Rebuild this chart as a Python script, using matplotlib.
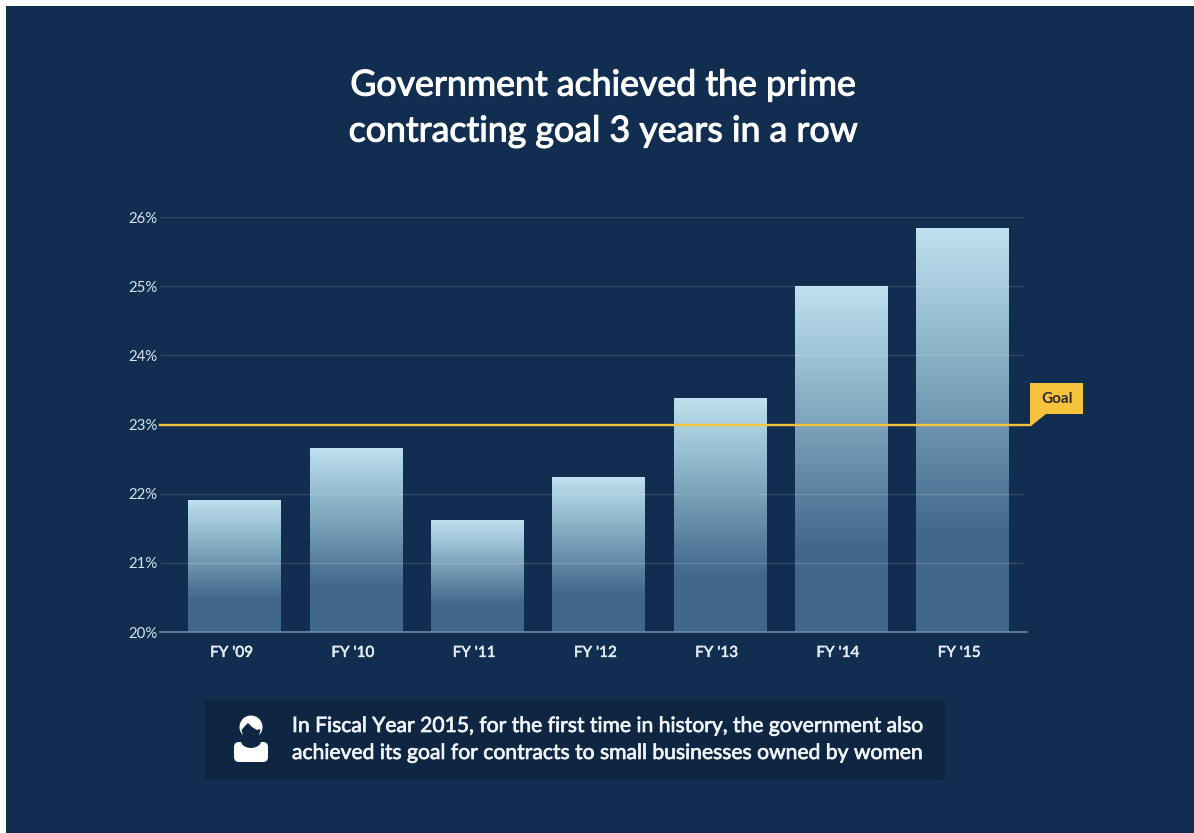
import numpy as np
import matplotlib
matplotlib.use('Agg')
import matplotlib.pyplot as plt
import matplotlib.patheffects as pe
from matplotlib.colors import LinearSegmentedColormap
from matplotlib.patches import Circle, Polygon, Rectangle, FancyBboxPatch, Ellipse
from matplotlib.transforms import ScaledTranslation

years = ["FY '09", "FY '10", "FY '11", "FY '12", "FY '13", "FY '14", "FY '15"]
shares = [21.91, 22.66, 21.62, 22.24, 23.38, 25.0, 25.84]
y_ticks = [20, 21, 22, 23, 24, 25, 26]
goal = 23

W, H = 1194, 833
BG = '#112d50'
BOX = '#0f2643'
plt.rcParams['font.family'] = ['Lato', 'DejaVu Sans']


def semibold(color, width=0.5):
    # Lato has no medium weight here, so thicken the regular one a little
    return [pe.withStroke(linewidth=width, foreground=color)]


fig = plt.figure(figsize=(W / 100, H / 100), dpi=100, facecolor='white')

# overlay in pixel coords (y down) for the background, flag, note box
page = fig.add_axes([0, 0, 1, 1], zorder=0)
page.set_xlim(0, W)
page.set_ylim(H, 0)
page.axis('off')
page.add_patch(Rectangle((6, 6), W - 6, H - 6, fc=BG, ec='none'))

# main chart
ax = fig.add_axes([160 / W, 1 - 632 / H, (1027 - 160) / W, (632 - 217) / H], zorder=1)
ax.patch.set_alpha(0)
x = np.arange(len(years))
bar_w = 0.76
cmap = LinearSegmentedColormap.from_list('bar', [(0, '#bfe0ef'), (0.25, '#94bccf'), (0.75, '#43688b'), (1, '#41678a')])
grad = np.linspace(0, 1, 256).reshape(-1, 1)
bars = ax.bar(x, np.array(shares) - 20, bottom=20, width=bar_w, color='none', zorder=2)
for b in bars:
    im = ax.imshow(grad, cmap=cmap, aspect='auto', zorder=2,
                   extent=[b.get_x(), b.get_x() + b.get_width(), 20, 20 + b.get_height()])
    im.set_clip_path(b)

ax.set_xlim(-0.615, 6.535)
ax.set_ylim(20, 26)
for s in ['top', 'left', 'right']:
    ax.spines[s].set_visible(False)
ax.spines['bottom'].set_color('#6d88a3')
ax.spines['bottom'].set_linewidth(1.2)
ax.set_yticks(y_ticks)
ax.set_yticklabels([f'{t}%' for t in y_ticks], color='#d8e4ee', fontsize=10.8)
ax.set_xticks(x)
ax.set_xticklabels(years, color='#e4ecf3', fontsize=11)
ax.tick_params(length=0)
ax.tick_params(axis='y', pad=2)
ax.tick_params(axis='x', pad=10)
shift = ScaledTranslation(-3 / 100, 0, fig.dpi_scale_trans)
for lab in ax.get_xticklabels():
    lab.set_transform(lab.get_transform() + shift)
    lab.set_path_effects(semibold('#e4ecf3', 0.4))
ax.hlines(y_ticks[1:], -0.615, 6.5, color='white', alpha=0.14, linewidth=1, zorder=3)
ax.plot([0, 1.0035], [0.5, 0.5], transform=ax.transAxes, color='#f7c23c', linewidth=1.7, zorder=4, clip_on=False)

# title
for txt, yy in [('Government achieved the prime', 85), ('contracting goal 3 years in a row', 131)]:
    page.text(603, yy, txt, color='white', fontsize=25.7, ha='center', va='center',
              path_effects=semibold('white', 0.8))

# goal flag
flag = fig.add_axes([0, 0, 1, 1], zorder=2)
flag.set_xlim(0, W)
flag.set_ylim(H, 0)
flag.axis('off')
flag.add_patch(Polygon([(1030, 383), (1083, 383), (1083, 414), (1046, 414), (1031, 426), (1030, 426)],
                       fc='#f7c23c', ec='none'))
flag.text(1057, 399, 'Goal', color='#2a2a33', fontsize=11, fontweight='bold', ha='center', va='center')

# note box
page.add_patch(FancyBboxPatch((205, 699), 740, 81, boxstyle='round,pad=0,rounding_size=2',
                              fc=BOX, ec='none'))
for txt, yy in [('In Fiscal Year 2015, for the first time in history, the government also', 726),
                ('achieved its goal for contracts to small businesses owned by women', 753)]:
    page.text(292, yy, txt, color='#f0f4f8', fontsize=15.2, ha='left', va='center',
              path_effects=semibold('#f0f4f8', 0.5))

# person icon
page.add_patch(FancyBboxPatch((234, 742), 34, 20, boxstyle='round,pad=0,rounding_size=5', fc='white', ec='none'))
page.add_patch(Ellipse((251, 741), 20, 14, fc=BOX, ec='none'))
page.add_patch(Circle((251, 727), 11.5, fc='white', ec='none'))
page.add_patch(Polygon([(241.5, 730), (245, 726), (248, 723), (252, 727), (257, 730), (260.5, 729),
                        (259, 736), (255, 742), (247, 742), (243, 736)], fc=BOX, ec='none'))

fig.savefig('out.png', dpi=100, facecolor='white')
